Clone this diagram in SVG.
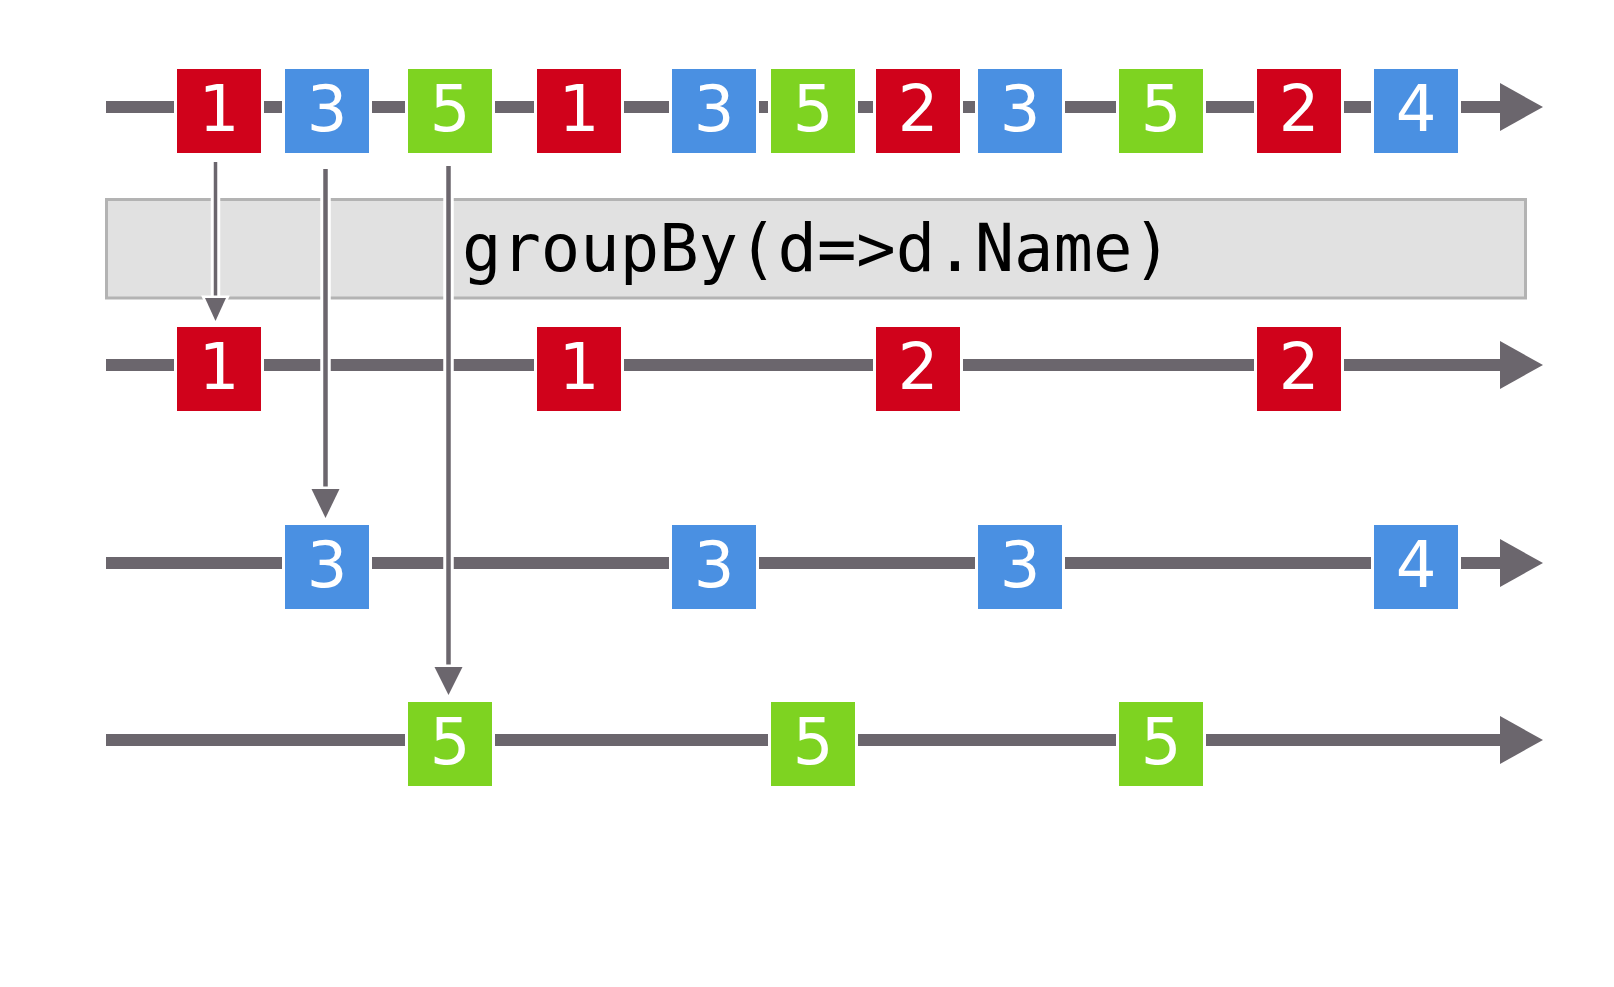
<svg xmlns="http://www.w3.org/2000/svg" width="1614" height="987" viewBox="0 0 1614 987">
  <style>
    .tl { stroke: #6b666d; stroke-width: 12; fill: none; }
    .head { fill: #6b666d; }
    .box { stroke: #ffffff; stroke-width: 6; paint-order: stroke; }
    .red { fill: #d0021b; }
    .blue { fill: #4a90e2; }
    .green { fill: #7ed321; }
    .num { font-family: "DejaVu Sans", "Noto Sans", sans-serif; font-size: 64px; fill: #ffffff; text-anchor: middle; }
    .op { fill: #e1e1e1; stroke: #b3b3b3; stroke-width: 3; }
    .code { font-family: "DejaVu Sans Mono", "Liberation Mono", monospace; font-size: 65.5px; fill: #000000; }
    .halo { stroke: #ffffff; fill: none; }
    .arr { stroke: #6b666d; fill: none; }
    .ahead { fill: #6b666d; stroke: #ffffff; stroke-width: 5; paint-order: stroke; stroke-linejoin: miter; }
  </style>
  <rect width="1614" height="987" fill="#ffffff"/>

  <g id="timelines">
    <line class="tl" x1="106" y1="107" x2="1502" y2="107"/>
    <polygon class="head" points="1500,83 1543,107 1500,131"/>
    <line class="tl" x1="106" y1="365" x2="1502" y2="365"/>
    <polygon class="head" points="1500,341 1543,365 1500,389"/>
    <line class="tl" x1="106" y1="563" x2="1502" y2="563"/>
    <polygon class="head" points="1500,539 1543,563 1500,587"/>
    <line class="tl" x1="106" y1="740" x2="1502" y2="740"/>
    <polygon class="head" points="1500,716 1543,740 1500,764"/>
  </g>

  <g id="operator">
    <rect class="op" x="106.5" y="199.5" width="1419" height="98.5"/>
    <text class="code" x="462" y="271">groupBy(d=&gt;d.Name)</text>
  </g>

  <g id="connectors">
    <g id="arrow-1">
      <line class="halo" x1="215.5" y1="162" x2="215.5" y2="300" stroke-width="9.5"/>
      <line class="arr" x1="215.5" y1="162" x2="215.5" y2="300" stroke-width="3.5"/>
      <polygon class="ahead" points="205,298 226,298 215.5,321"/>
    </g>
    <g id="arrow-3">
      <line class="halo" x1="325.5" y1="169" x2="325.5" y2="491" stroke-width="10.5"/>
      <line class="arr" x1="325.5" y1="169" x2="325.5" y2="491" stroke-width="4.5"/>
      <polygon class="ahead" points="311.5,489 339.5,489 325.5,518"/>
    </g>
    <g id="arrow-5">
      <line class="halo" x1="448.5" y1="166" x2="448.5" y2="669" stroke-width="10.5"/>
      <line class="arr" x1="448.5" y1="166" x2="448.5" y2="669" stroke-width="4.5"/>
      <polygon class="ahead" points="434.5,667 462.5,667 448.5,695"/>
    </g>
  </g>

  <!-- row 1: source stream -->
  <g id="s1"><rect class="box red" x="177" y="69" width="84" height="84"/><text class="num" x="219" y="131">1</text></g>
  <g id="s2"><rect class="box blue" x="285" y="69" width="84" height="84"/><text class="num" x="327" y="131">3</text></g>
  <g id="s3"><rect class="box green" x="408" y="69" width="84" height="84"/><text class="num" x="450" y="131">5</text></g>
  <g id="s4"><rect class="box red" x="537" y="69" width="84" height="84"/><text class="num" x="579" y="131">1</text></g>
  <g id="s5"><rect class="box blue" x="672" y="69" width="84" height="84"/><text class="num" x="714" y="131">3</text></g>
  <g id="s6"><rect class="box green" x="771" y="69" width="84" height="84"/><text class="num" x="813" y="131">5</text></g>
  <g id="s7"><rect class="box red" x="876" y="69" width="84" height="84"/><text class="num" x="918" y="131">2</text></g>
  <g id="s8"><rect class="box blue" x="978" y="69" width="84" height="84"/><text class="num" x="1020" y="131">3</text></g>
  <g id="s9"><rect class="box green" x="1119" y="69" width="84" height="84"/><text class="num" x="1161" y="131">5</text></g>
  <g id="s10"><rect class="box red" x="1257" y="69" width="84" height="84"/><text class="num" x="1299" y="131">2</text></g>
  <g id="s11"><rect class="box blue" x="1374" y="69" width="84" height="84"/><text class="num" x="1416" y="131">4</text></g>

  <!-- row 2: red group -->
  <g id="r1"><rect class="box red" x="177" y="327" width="84" height="84"/><text class="num" x="219" y="389">1</text></g>
  <g id="r2"><rect class="box red" x="537" y="327" width="84" height="84"/><text class="num" x="579" y="389">1</text></g>
  <g id="r3"><rect class="box red" x="876" y="327" width="84" height="84"/><text class="num" x="918" y="389">2</text></g>
  <g id="r4"><rect class="box red" x="1257" y="327" width="84" height="84"/><text class="num" x="1299" y="389">2</text></g>

  <!-- row 3: blue group -->
  <g id="b1"><rect class="box blue" x="285" y="525" width="84" height="84"/><text class="num" x="327" y="587">3</text></g>
  <g id="b2"><rect class="box blue" x="672" y="525" width="84" height="84"/><text class="num" x="714" y="587">3</text></g>
  <g id="b3"><rect class="box blue" x="978" y="525" width="84" height="84"/><text class="num" x="1020" y="587">3</text></g>
  <g id="b4"><rect class="box blue" x="1374" y="525" width="84" height="84"/><text class="num" x="1416" y="587">4</text></g>

  <!-- row 4: green group -->
  <g id="g1"><rect class="box green" x="408" y="702" width="84" height="84"/><text class="num" x="450" y="764">5</text></g>
  <g id="g2"><rect class="box green" x="771" y="702" width="84" height="84"/><text class="num" x="813" y="764">5</text></g>
  <g id="g3"><rect class="box green" x="1119" y="702" width="84" height="84"/><text class="num" x="1161" y="764">5</text></g>
</svg>
